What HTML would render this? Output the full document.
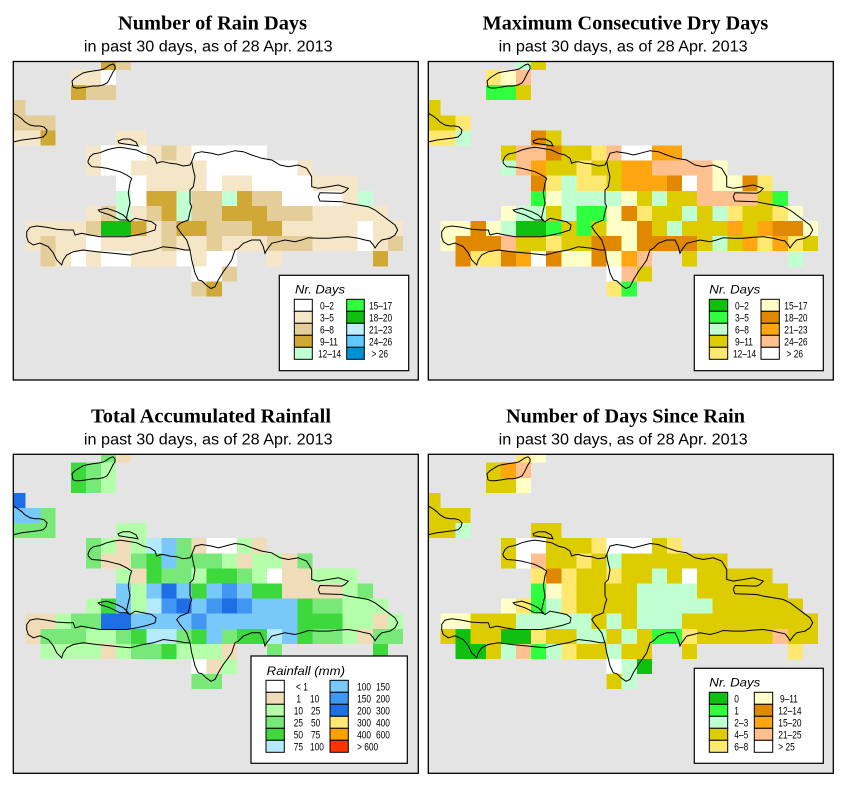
<!DOCTYPE html>
<html><head><meta charset="utf-8"><style>
body{margin:0;background:#fff}
svg{display:block}
text{font-family:"Liberation Sans",sans-serif;fill:#000}
.t{font-family:"Liberation Serif",serif;font-weight:bold;font-size:19.5px}
.s{font-size:15.5px}
.lt{font-style:italic;font-size:11.5px}
.lb{font-size:11px}
.sw{stroke:#000;stroke-width:1}
.coast{fill:none;stroke:#000;stroke-width:1;stroke-linejoin:miter}
</style></head><body>
<svg width="853" height="793" viewBox="0 0 853 793" xmlns="http://www.w3.org/2000/svg">
<defs>
<g id="coast" class="coast">
<path d="M88.3,163.3 L88,161 L90,156.7 L93.3,154 L100,152.7 L106.7,150 L113.3,148.3 L120,147.3 L126.7,148.3 L136.7,150 L143.3,153.3 L150,155 L155,158.3 L156.7,163.3 L160,162 L163.3,161.7 L170,163.3 L176.7,164 L183.3,166 L190,165 L191.7,161.7 L195,153.3 L201.7,151.7 L211.7,153.3 L218.3,155 L225,153.3 L235,150.7 L243.3,151.7 L251.7,155 L261.7,158.3 L271.7,160 L280,165 L288.3,166.7 L298.3,165 L306.7,168.3 L311.7,176.7 L311.7,186.7 L318.3,188.3 L328.3,186.7 L338.3,185 L348.3,188.3 L345,191.7 L341.7,193.3 L320,192.7 L318.3,196.7 L320,201 L341.7,201.7 L348.3,203.3 L358.3,205 L368.3,206.7 L375,210 L381.7,215 L388.3,220 L395,225 L397.7,230 L395,235 L390,238.3 L381.7,240 L378.3,243.3 L375,248 L373.3,245 L370,241 L365,240 L358.3,238.3 L348.3,236.7 L338.3,237.3 L328.3,238.3 L318.3,238.3 L308.3,237.7 L301.7,240 L295,241.7 L285,240 L278.3,241.7 L271.7,243.3 L266.7,250 L265,253.3 L263.3,246.7 L260,240 L251.7,240 L243.3,243.3 L238.3,248.3 L235,250 L233.3,255 L231.7,260 L228.3,265 L223.3,271.7 L218.3,280 L215,286.7 L211,288.5 L206,285 L202,281 L198.3,280 L195,273 L193.3,266 L191.7,260 L190,250 L185,250 L176.7,248.3 L163.3,246.7 L153.3,250 L143.3,251.7 L130,255 L113.3,253.3 L96.7,251.7 L83.3,250 L73.3,251.7 L66.7,255 L63.3,260 L61.7,265 L56.7,260 L53.3,253 L48.3,246.7 L40,243 L33.3,245 L28.3,241.7 L26.7,236.7 L26.7,231.7 L30,227.3 L36.7,226 L46.7,227.3 L56.7,229.3 L66.7,230 L73.3,230 L75,235 L81.7,233.3 L90,235 L100,236.7 L113.3,236.7 L126.7,236.7 L136.7,235 L146.7,232.7 L155,230 L156,225 L151.7,221.7 L143.3,220 L135,218.3 L130,221.7 L126.7,220 L126.7,216.7 L128.3,210 L130,203 L128.3,193 L130,183 L131.7,178.3 L126.7,175 L120,171.7 L113.3,170 L106.7,168.3 L100,167.3 L91.7,166.7 Z"/>
<path d="M191.7,161.7 L193.3,170 L195,176.7 L193.3,186.7 L190,190 L190,203 L191.7,206.7 L190,211.7 L188.3,220 L180,223.3 L176.7,226.7 L180,231.7 L186.7,240 L190,250"/>
<path d="M98.3,210 L106.7,208.3 L116.7,211.7 L123.3,215 L128.3,220 L120,220 L110,215 L100,211.7 Z"/>
<path d="M118,141 L123,139 L130,139 L136,142 L138,146 L132,145 L125,144 L119,143 Z"/>
<path d="M13,113 L18,116 L22,119 L25,122 L30,125 L35,126 L40,126 L44,127 L47,130 L46,134 L43,137 L38,138 L30,139 L22,140 L13,142"/>
<path d="M73,87 L72,81 L75,78 L78,76 L83,73 L87,72 L93,71 L100,70 L104,69 L107,67 L110,65 L113,64 L115,66 L115,69 L113,72 L111,76 L109,80 L107,83 L103,85 L98,86 L93,86 L87,87 L80,88 L76,88 Z"/>
</g>
</defs>

<!-- Titles -->
<text class="t" x="212.5" y="29.3" text-anchor="middle" textLength="189" lengthAdjust="spacingAndGlyphs">Number of Rain Days</text>
<text class="s" x="208.3" y="51.7" text-anchor="middle" textLength="248.7" lengthAdjust="spacingAndGlyphs">in past 30 days, as of  28 Apr. 2013</text>
<text class="t" x="625.5" y="29.3" text-anchor="middle" textLength="285.6" lengthAdjust="spacingAndGlyphs">Maximum Consecutive Dry Days</text>
<text class="s" x="623.2" y="51.7" text-anchor="middle" textLength="249" lengthAdjust="spacingAndGlyphs">in past 30 days, as of  28 Apr. 2013</text>
<text class="t" x="211" y="422.7" text-anchor="middle" textLength="240" lengthAdjust="spacingAndGlyphs">Total Accumulated Rainfall</text>
<text class="s" x="208.3" y="444.3" text-anchor="middle" textLength="248.7" lengthAdjust="spacingAndGlyphs">in past 30 days, as of  28 Apr. 2013</text>
<text class="t" x="625.5" y="422.7" text-anchor="middle" textLength="239" lengthAdjust="spacingAndGlyphs">Number of Days Since Rain</text>
<text class="s" x="623.2" y="444.3" text-anchor="middle" textLength="249" lengthAdjust="spacingAndGlyphs">in past 30 days, as of  28 Apr. 2013</text>

<!-- Panel 1 -->
<svg x="13.3" y="61.5" width="405" height="318.5" overflow="hidden">
<rect x="0" y="0" width="405" height="319" fill="#E4E4E4"/>
<g transform="translate(12.2,8.5) scale(15.1)" shape-rendering="crispEdges">
<path fill="#FFFFFF" d="M5 0h1v1h-1z M5 5h3v1h-3z M11 5h5v1h-5z M5 6h2v1h-2z M12 6h6v1h-6z M6 7h2v1h-2z M12 7h1v1h-1z M15 7h4v1h-4z M7 8h1v1h-1z M17 8h4v1h-4z M22 10h1v1h-1z M4 11h1v1h-1z M22 11h1v1h-1z M3 12h1v1h-1z M5 12h2v1h-2z M10 12h1v1h-1z M12 12h2v1h-2z M11 13h2v1h-2z"/>
<path fill="#F5E6C8" d="M3 0h2v1h-2z M-1 4h2v1h-2z M6 4h2v1h-2z M4 5h1v1h-1z M8 5h1v1h-1z M10 5h1v1h-1z M4 6h1v1h-1z M7 6h5v1h-5z M18 6h1v1h-1z M8 7h4v1h-4z M13 7h2v1h-2z M19 7h3v1h-3z M21 8h1v1h-1z M4 9h1v1h-1z M7 9h1v1h-1z M19 9h5v1h-5z M0 10h4v1h-4z M8 10h1v1h-1z M17 10h5v1h-5z M23 10h2v1h-2z M0 11h1v1h-1z M2 11h2v1h-2z M5 11h4v1h-4z M10 11h2v1h-2z M13 11h3v1h-3z M19 11h3v1h-3z M23 11h1v1h-1z M2 12h1v1h-1z M4 12h1v1h-1z M7 12h3v1h-3z M11 12h1v1h-1z M16 12h1v1h-1z"/>
<path fill="#E3CD98" d="M6 -1h1v1h-1z M4 1h2v1h-2z M-1 2h1v1h-1z M-1 3h3v1h-3z M9 5h1v1h-1z M11 8h2v1h-2z M15 8h2v1h-2z M5 9h1v1h-1z M8 9h1v1h-1z M11 9h2v1h-2z M16 9h3v1h-3z M4 10h1v1h-1z M9 10h1v1h-1z M12 10h3v1h-3z M1 11h1v1h-1z M9 11h1v1h-1z M12 11h1v1h-1z M16 11h3v1h-3z M24 11h1v1h-1z M1 12h1v1h-1z M13 13h1v1h-1z M11 14h1v1h-1z"/>
<path fill="#D0A836" d="M5 -1h1v1h-1z M3 1h1v1h-1z M1 4h1v1h-1z M8 8h2v1h-2z M14 8h1v1h-1z M9 9h1v1h-1z M13 9h3v1h-3z M7 10h1v1h-1z M10 10h2v1h-2z M15 10h2v1h-2z M23 12h1v1h-1z M12 14h1v1h-1z"/>
<path fill="#C2FFD2" d="M6 8h1v1h-1z M10 8h1v1h-1z M13 8h1v1h-1z M22 8h1v1h-1z M6 9h1v1h-1z M10 9h1v1h-1z"/>
<path fill="#10C010" d="M5 10h2v1h-2z"/>
</g>
<use href="#coast" transform="translate(-13.3,-61.5)"/>
</svg>
<rect x="13.3" y="61.5" width="405" height="318.5" fill="none" stroke="#000" stroke-width="1.3"/>
<rect x="279.3" y="275.3" width="129.4" height="95.4" fill="#fff" stroke="#000" stroke-width="1.2"/>
<text class="lt" x="295" y="293.5" textLength="50" lengthAdjust="spacingAndGlyphs">Nr. Days</text>
<rect class="sw" x="294.3" y="299.3" width="18" height="12" fill="#FFFFFF"/>
<rect class="sw" x="294.3" y="311.3" width="18" height="12" fill="#F5E6C8"/>
<rect class="sw" x="294.3" y="323.3" width="18" height="12" fill="#E3CD98"/>
<rect class="sw" x="294.3" y="335.3" width="18" height="12" fill="#D0A836"/>
<rect class="sw" x="294.3" y="347.3" width="18" height="12" fill="#C2FFD2"/>
<rect class="sw" x="346.7" y="299.3" width="17.6" height="12" fill="#30FF40"/>
<rect class="sw" x="346.7" y="311.3" width="17.6" height="12" fill="#10C010"/>
<rect class="sw" x="346.7" y="323.3" width="17.6" height="12" fill="#C0EEFF"/>
<rect class="sw" x="346.7" y="335.3" width="17.6" height="12" fill="#60C8FF"/>
<rect class="sw" x="346.7" y="347.3" width="17.6" height="12" fill="#0090D8"/>
<g class="lb">
<text transform="translate(320,309.7) scale(0.76,1)">0–2</text>
<text transform="translate(320,321.7) scale(0.76,1)">3–5</text>
<text transform="translate(320,333.7) scale(0.76,1)">6–8</text>
<text transform="translate(320,345.7) scale(0.76,1)">9–11</text>
<text transform="translate(318,357.7) scale(0.76,1)">12–14</text>
<text transform="translate(369,309.7) scale(0.76,1)">15–17</text>
<text transform="translate(369,321.7) scale(0.76,1)">18–20</text>
<text transform="translate(369,333.7) scale(0.76,1)">21–23</text>
<text transform="translate(369,345.7) scale(0.76,1)">24–26</text>
<text transform="translate(371.5,357.7) scale(0.76,1)">&gt; 26</text>
</g>

<!-- Panel 2 -->
<svg x="428.3" y="61.5" width="405" height="318.5" overflow="hidden">
<rect x="0" y="0" width="405" height="319" fill="#E4E4E4"/>
<g transform="translate(12.2,8.5) scale(15.1)" shape-rendering="crispEdges">
<path fill="#10C010" d="M5 10h2v1h-2z"/>
<path fill="#30FF40" d="M3 1h2v1h-2z M6 8h1v1h-1z M22 8h1v1h-1z M9 9h2v1h-2z M7 10h1v1h-1z M9 10h1v1h-1z M12 14h1v1h-1z"/>
<path fill="#C0FFD0" d="M5 -1h1v1h-1z M1 4h1v1h-1z M4 6h1v1h-1z M8 7h1v1h-1z M8 8h4v1h-4z M14 8h1v1h-1z M5 9h2v1h-2z M8 9h1v1h-1z M16 9h1v1h-1z M18 9h1v1h-1z M4 10h1v1h-1z M15 10h1v1h-1z M18 11h1v1h-1z M23 12h1v1h-1z"/>
<path fill="#DDCC00" d="M6 -1h1v1h-1z M5 1h1v1h-1z M-1 2h1v1h-1z M-1 3h2v1h-2z M7 4h1v1h-1z M4 5h1v1h-1z M8 5h2v1h-2z M7 6h2v1h-2z M10 6h2v1h-2z M11 7h1v1h-1z M13 8h1v1h-1z M15 8h2v1h-2z M21 8h1v1h-1z M7 9h1v1h-1z M14 9h2v1h-2z M17 9h1v1h-1z M20 9h2v1h-2z M8 10h1v1h-1z M10 10h1v1h-1z M14 10h1v1h-1z M16 10h3v1h-3z M20 10h1v1h-1z M5 11h2v1h-2z M8 11h2v1h-2z M17 11h1v1h-1z M19 11h1v1h-1z M24 11h1v1h-1z M16 12h1v1h-1z M13 13h1v1h-1z"/>
<path fill="#FFE870" d="M3 0h1v1h-1z M1 3h1v1h-1z M-1 4h2v1h-2z M10 5h1v1h-1z M9 6h1v1h-1z M7 7h1v1h-1z M9 7h2v1h-2z M21 7h1v1h-1z M13 9h1v1h-1z M19 9h1v1h-1z M22 9h1v1h-1z M7 11h1v1h-1z M21 11h1v1h-1z M23 11h1v1h-1z M2 12h2v1h-2z M11 14h1v1h-1z"/>
<path fill="#FFFFC8" d="M4 0h1v1h-1z M18 6h1v1h-1z M18 7h2v1h-2z M7 8h1v1h-1z M12 8h1v1h-1z M4 9h1v1h-1z M11 9h1v1h-1z M23 9h1v1h-1z M0 10h2v1h-2z M3 10h1v1h-1z M11 10h2v1h-2z M24 10h1v1h-1z M0 11h1v1h-1z M12 11h1v1h-1z M8 12h2v1h-2z M11 12h1v1h-1z"/>
<path fill="#E08800" d="M6 4h1v1h-1z M7 5h1v1h-1z M6 7h1v1h-1z M15 7h1v1h-1z M20 7h1v1h-1z M12 9h1v1h-1z M2 10h1v1h-1z M13 10h1v1h-1z M22 10h2v1h-2z M1 11h3v1h-3z M10 11h2v1h-2z M13 11h4v1h-4z M1 12h1v1h-1z M4 12h1v1h-1z M7 12h1v1h-1z M10 12h1v1h-1z"/>
<path fill="#FFA510" d="M14 5h2v1h-2z M6 6h1v1h-1z M12 6h2v1h-2z M12 7h3v1h-3z M19 10h1v1h-1z M21 10h1v1h-1z M20 11h1v1h-1z M22 11h1v1h-1z M5 12h1v1h-1z M12 12h1v1h-1z"/>
<path fill="#FFC090" d="M5 0h1v1h-1z M5 5h2v1h-2z M11 5h1v1h-1z M5 6h1v1h-1z M14 6h4v1h-4z M17 7h1v1h-1z M17 8h4v1h-4z M4 11h1v1h-1z M13 12h1v1h-1z M12 13h1v1h-1z"/>
<path fill="#FFFFFF" d="M12 5h2v1h-2z M16 7h1v1h-1z M6 12h1v1h-1z M11 13h1v1h-1z"/>
</g>
<use href="#coast" transform="translate(-13.3,-61.5)"/>
</svg>
<rect x="428.3" y="61.5" width="405" height="318.5" fill="none" stroke="#000" stroke-width="1.3"/>
<rect x="694.3" y="275.3" width="129" height="95.4" fill="#fff" stroke="#000" stroke-width="1.2"/>
<text class="lt" x="709.3" y="293.5" textLength="51" lengthAdjust="spacingAndGlyphs">Nr. Days</text>
<rect class="sw" x="709.3" y="299.3" width="18.4" height="12" fill="#10C010"/>
<rect class="sw" x="709.3" y="311.3" width="18.4" height="12" fill="#30FF40"/>
<rect class="sw" x="709.3" y="323.3" width="18.4" height="12" fill="#C0FFD0"/>
<rect class="sw" x="709.3" y="335.3" width="18.4" height="12" fill="#DDCC00"/>
<rect class="sw" x="709.3" y="347.3" width="18.4" height="12" fill="#FFE870"/>
<rect class="sw" x="761" y="299.3" width="18.3" height="12" fill="#FFFFC8"/>
<rect class="sw" x="761" y="311.3" width="18.3" height="12" fill="#E08800"/>
<rect class="sw" x="761" y="323.3" width="18.3" height="12" fill="#FFA510"/>
<rect class="sw" x="761" y="335.3" width="18.3" height="12" fill="#FFC090"/>
<rect class="sw" x="761" y="347.3" width="18.3" height="12" fill="#FFFFFF"/>
<g class="lb">
<text transform="translate(735,309.7) scale(0.76,1)">0–2</text>
<text transform="translate(735,321.7) scale(0.76,1)">3–5</text>
<text transform="translate(735,333.7) scale(0.76,1)">6–8</text>
<text transform="translate(735,345.7) scale(0.76,1)">9–11</text>
<text transform="translate(733,357.7) scale(0.76,1)">12–14</text>
<text transform="translate(784.3,309.7) scale(0.76,1)">15–17</text>
<text transform="translate(784.3,321.7) scale(0.76,1)">18–20</text>
<text transform="translate(784.3,333.7) scale(0.76,1)">21–23</text>
<text transform="translate(784.3,345.7) scale(0.76,1)">24–26</text>
<text transform="translate(786.5,357.7) scale(0.76,1)">&gt; 26</text>
</g>

<!-- Panel 3 -->
<svg x="13.3" y="454.3" width="405" height="319" overflow="hidden">
<rect x="0" y="0" width="405" height="319" fill="#E4E4E4"/>
<g transform="translate(12.2,8.4) scale(15.1)" shape-rendering="crispEdges">
<path fill="#FFFFFF" d="M12 5h2v1h-2z M16 7h1v1h-1z M11 13h1v1h-1z"/>
<path fill="#F0DCB8" d="M6 -1h1v1h-1z M6 5h1v1h-1z M11 5h1v1h-1z M15 5h1v1h-1z M5 6h2v1h-2z M14 6h1v1h-1z M17 6h1v1h-1z M7 7h1v1h-1z M17 7h2v1h-2z M17 8h4v1h-4z M0 10h2v1h-2z M23 10h1v1h-1z M0 11h1v1h-1z M22 11h1v1h-1z M5 12h1v1h-1z M13 12h1v1h-1z M12 13h1v1h-1z"/>
<path fill="#B4FFAA" d="M5 0h1v1h-1z M5 1h1v1h-1z M6 4h2v1h-2z M5 5h1v1h-1z M7 5h1v1h-1z M14 5h1v1h-1z M13 6h1v1h-1z M15 6h2v1h-2z M6 7h1v1h-1z M11 7h1v1h-1z M15 7h1v1h-1z M19 7h3v1h-3z M7 8h1v1h-1z M21 8h1v1h-1z M4 9h1v1h-1z M7 9h1v1h-1z M21 9h3v1h-3z M2 10h1v1h-1z M21 10h2v1h-2z M24 10h1v1h-1z M4 11h2v1h-2z M21 11h1v1h-1z M1 12h4v1h-4z M6 12h1v1h-1z M10 12h3v1h-3z M13 13h1v1h-1z"/>
<path fill="#78E878" d="M5 -1h1v1h-1z M4 0h1v1h-1z M4 1h1v1h-1z M1 3h1v1h-1z M-1 4h3v1h-3z M4 5h1v1h-1z M10 5h1v1h-1z M4 6h1v1h-1z M7 6h1v1h-1z M10 6h3v1h-3z M18 6h1v1h-1z M9 7h2v1h-2z M14 7h1v1h-1z M22 8h1v1h-1z M19 9h2v1h-2z M3 10h2v1h-2z M1 11h3v1h-3z M6 11h1v1h-1z M10 11h1v1h-1z M13 11h1v1h-1z M19 11h2v1h-2z M23 11h2v1h-2z M7 12h2v1h-2z M16 12h1v1h-1z M11 14h2v1h-2z"/>
<path fill="#3CD83C" d="M3 0h1v1h-1z M3 1h1v1h-1z M8 6h1v1h-1z M8 7h1v1h-1z M12 7h2v1h-2z M11 8h1v1h-1z M15 8h2v1h-2z M5 9h1v1h-1z M18 9h1v1h-1z M18 10h3v1h-3z M7 11h1v1h-1z M11 11h1v1h-1z M14 11h2v1h-2z M18 11h1v1h-1z M9 12h1v1h-1z M23 12h1v1h-1z"/>
<path fill="#B4EBFA" d="M8 5h1v1h-1z M8 9h1v1h-1z M8 11h2v1h-2z M16 11h1v1h-1z"/>
<path fill="#78C8FA" d="M-1 3h2v1h-2z M9 5h1v1h-1z M9 6h1v1h-1z M6 8h1v1h-1z M8 8h1v1h-1z M10 8h1v1h-1z M12 8h1v1h-1z M14 8h1v1h-1z M6 9h1v1h-1z M11 9h1v1h-1z M15 9h3v1h-3z M7 10h4v1h-4z M12 10h6v1h-6z M12 11h1v1h-1z M17 11h1v1h-1z"/>
<path fill="#4096F0" d="M13 8h1v1h-1z M9 9h1v1h-1z M12 9h1v1h-1z M14 9h1v1h-1z M11 10h1v1h-1z"/>
<path fill="#1E6EE6" d="M-1 2h1v1h-1z M9 8h1v1h-1z M10 9h1v1h-1z M13 9h1v1h-1z M5 10h2v1h-2z"/>
</g>
<use href="#coast" transform="translate(-13.3,-61.5)"/>
</svg>
<rect x="13.3" y="454.3" width="405" height="319" fill="none" stroke="#000" stroke-width="1.3"/>
<rect x="251" y="656" width="156.3" height="107.3" fill="#fff" stroke="#000" stroke-width="1.2"/>
<text class="lt" x="266.7" y="675" textLength="78.3" lengthAdjust="spacingAndGlyphs">Rainfall (mm)</text>
<rect class="sw" x="266" y="680.3" width="18.3" height="12" fill="#FFFFFF"/>
<rect class="sw" x="266" y="692.3" width="18.3" height="12" fill="#F0DCB8"/>
<rect class="sw" x="266" y="704.3" width="18.3" height="12" fill="#B4FFAA"/>
<rect class="sw" x="266" y="716.3" width="18.3" height="12" fill="#78E878"/>
<rect class="sw" x="266" y="728.3" width="18.3" height="12" fill="#3CD83C"/>
<rect class="sw" x="266" y="740.3" width="18.3" height="12" fill="#B4EBFA"/>
<rect class="sw" x="330" y="680.3" width="18.3" height="12" fill="#78C8FA"/>
<rect class="sw" x="330" y="692.3" width="18.3" height="12" fill="#4096F0"/>
<rect class="sw" x="330" y="704.3" width="18.3" height="12" fill="#1E6EE6"/>
<rect class="sw" x="330" y="716.3" width="18.3" height="12" fill="#FFE878"/>
<rect class="sw" x="330" y="728.3" width="18.3" height="12" fill="#FFA000"/>
<rect class="sw" x="330" y="740.3" width="18.3" height="12" fill="#FF3200"/>
<g class="lb">
<text transform="translate(296,690.7) scale(0.76,1)">&lt; 1</text>
<text transform="translate(301,702.7) scale(0.76,1)" text-anchor="end">1</text>
<text transform="translate(310,702.7) scale(0.76,1)">10</text>
<text transform="translate(303,714.7) scale(0.76,1)" text-anchor="end">10</text>
<text transform="translate(311,714.7) scale(0.76,1)">25</text>
<text transform="translate(303,726.7) scale(0.76,1)" text-anchor="end">25</text>
<text transform="translate(311,726.7) scale(0.76,1)">50</text>
<text transform="translate(303,738.7) scale(0.76,1)" text-anchor="end">50</text>
<text transform="translate(311,738.7) scale(0.76,1)">75</text>
<text transform="translate(303,750.7) scale(0.76,1)" text-anchor="end">75</text>
<text transform="translate(310,750.7) scale(0.76,1)">100</text>
<text transform="translate(371,690.7) scale(0.76,1)" text-anchor="end">100</text>
<text transform="translate(376,690.7) scale(0.76,1)">150</text>
<text transform="translate(371,702.7) scale(0.76,1)" text-anchor="end">150</text>
<text transform="translate(376,702.7) scale(0.76,1)">200</text>
<text transform="translate(371,714.7) scale(0.76,1)" text-anchor="end">200</text>
<text transform="translate(376,714.7) scale(0.76,1)">300</text>
<text transform="translate(371,726.7) scale(0.76,1)" text-anchor="end">300</text>
<text transform="translate(376,726.7) scale(0.76,1)">400</text>
<text transform="translate(371,738.7) scale(0.76,1)" text-anchor="end">400</text>
<text transform="translate(376,738.7) scale(0.76,1)">600</text>
<text transform="translate(357,750.7) scale(0.76,1)">&gt; 600</text>
</g>

<!-- Panel 4 -->
<svg x="428.3" y="454.3" width="405" height="319" overflow="hidden">
<rect x="0" y="0" width="405" height="319" fill="#E4E4E4"/>
<g transform="translate(12.2,8.4) scale(15.1)" shape-rendering="crispEdges">
<path fill="#10C010" d="M1 11h1v1h-1z M4 11h2v1h-2z M1 12h2v1h-2z M13 13h1v1h-1z"/>
<path fill="#30FF40" d="M6 8h1v1h-1z M6 9h1v1h-1z M14 11h2v1h-2z M6 12h1v1h-1z"/>
<path fill="#C0FFD0" d="M1 4h1v1h-1z M11 6h1v1h-1z M14 7h1v1h-1z M13 8h4v1h-4z M7 9h1v1h-1z M13 9h5v1h-5z M5 10h5v1h-5z M11 10h1v1h-1z M13 10h3v1h-3z M9 11h2v1h-2z M12 11h1v1h-1z M4 12h1v1h-1z M7 12h1v1h-1z M11 12h1v1h-1z M12 13h1v1h-1z M12 14h1v1h-1z"/>
<path fill="#DDCC00" d="M3 0h1v1h-1z M3 1h2v1h-2z M-1 2h1v1h-1z M-1 3h3v1h-3z M-1 4h2v1h-2z M6 4h2v1h-2z M4 5h1v1h-1z M7 5h3v1h-3z M14 5h1v1h-1z M4 6h1v1h-1z M7 6h2v1h-2z M10 6h1v1h-1z M12 6h7v1h-7z M9 7h2v1h-2z M12 7h2v1h-2z M15 7h1v1h-1z M17 7h5v1h-5z M9 8h4v1h-4z M17 8h6v1h-6z M9 9h4v1h-4z M18 9h6v1h-6z M2 10h3v1h-3z M10 10h1v1h-1z M12 10h1v1h-1z M16 10h9v1h-9z M0 11h1v1h-1z M2 11h2v1h-2z M7 11h2v1h-2z M11 11h1v1h-1z M13 11h1v1h-1z M17 11h5v1h-5z M23 11h2v1h-2z M3 12h1v1h-1z M9 12h2v1h-2z M12 12h2v1h-2z M16 12h1v1h-1z M11 14h1v1h-1z"/>
<path fill="#FFE870" d="M5 -1h1v1h-1z M10 5h1v1h-1z M15 5h1v1h-1z M9 6h1v1h-1z M6 7h1v1h-1z M8 7h1v1h-1z M11 7h1v1h-1z M8 8h1v1h-1z M5 9h1v1h-1z M8 9h1v1h-1z M6 11h1v1h-1z M16 11h1v1h-1z M8 12h1v1h-1z M23 12h1v1h-1z"/>
<path fill="#FFFFC8" d="M6 -1h1v1h-1z M5 1h1v1h-1z M7 8h1v1h-1z M4 9h1v1h-1z M0 10h2v1h-2z"/>
<path fill="#E08800" d="M7 7h1v1h-1z"/>
<path fill="#FFA510" d="M4 0h1v1h-1z"/>
<path fill="#FFC090" d="M5 0h1v1h-1z M6 6h1v1h-1z M22 11h1v1h-1z M5 12h1v1h-1z"/>
<path fill="#FFFFFF" d="M5 5h2v1h-2z M11 5h3v1h-3z M5 6h1v1h-1z M16 7h1v1h-1z M11 13h1v1h-1z"/>
</g>
<use href="#coast" transform="translate(-13.3,-61.5)"/>
</svg>
<rect x="428.3" y="454.3" width="405" height="319" fill="none" stroke="#000" stroke-width="1.3"/>
<rect x="694.3" y="668.3" width="129" height="95" fill="#fff" stroke="#000" stroke-width="1.2"/>
<text class="lt" x="709.3" y="686.7" textLength="51" lengthAdjust="spacingAndGlyphs">Nr. Days</text>
<rect class="sw" x="709.3" y="692.3" width="18.4" height="12" fill="#10C010"/>
<rect class="sw" x="709.3" y="704.3" width="18.4" height="12" fill="#30FF40"/>
<rect class="sw" x="709.3" y="716.3" width="18.4" height="12" fill="#C0FFD0"/>
<rect class="sw" x="709.3" y="728.3" width="18.4" height="12" fill="#DDCC00"/>
<rect class="sw" x="709.3" y="740.3" width="18.4" height="12" fill="#FFE870"/>
<rect class="sw" x="754.3" y="692.3" width="18.4" height="12" fill="#FFFFC8"/>
<rect class="sw" x="754.3" y="704.3" width="18.4" height="12" fill="#E08800"/>
<rect class="sw" x="754.3" y="716.3" width="18.4" height="12" fill="#FFA510"/>
<rect class="sw" x="754.3" y="728.3" width="18.4" height="12" fill="#FFC090"/>
<rect class="sw" x="754.3" y="740.3" width="18.4" height="12" fill="#FFFFFF"/>
<g class="lb">
<text transform="translate(734.3,702.7) scale(0.76,1)">0</text>
<text transform="translate(734.3,714.7) scale(0.76,1)">1</text>
<text transform="translate(734.3,726.7) scale(0.76,1)">2–3</text>
<text transform="translate(734.3,738.7) scale(0.76,1)">4–5</text>
<text transform="translate(734.3,750.7) scale(0.76,1)">6–8</text>
<text transform="translate(780,702.7) scale(0.76,1)">9–11</text>
<text transform="translate(778.3,714.7) scale(0.76,1)">12–14</text>
<text transform="translate(778.3,726.7) scale(0.76,1)">15–20</text>
<text transform="translate(778.3,738.7) scale(0.76,1)">21–25</text>
<text transform="translate(778.3,750.7) scale(0.76,1)">&gt; 25</text>
</g>
</svg>
</body></html>
